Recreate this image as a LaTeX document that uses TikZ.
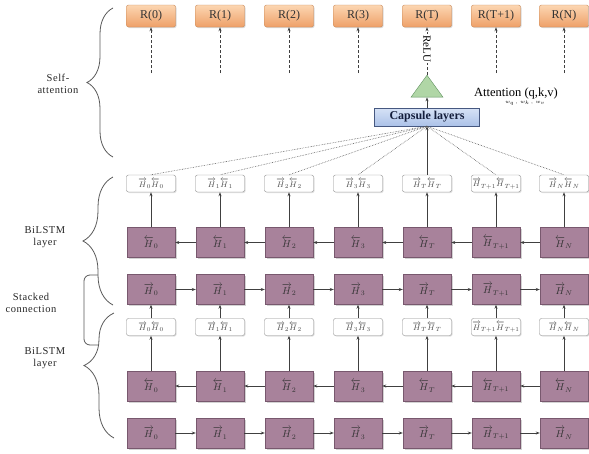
\documentclass[tikz,border=0pt]{standalone}
\usepackage{amsmath}
\usepackage{fontspec}
\setmainfont{Liberation Serif}
\newfontfamily\spacedserif[LetterSpace=5]{Liberation Serif}
\usetikzlibrary{arrows.meta, shapes.geometric, shadows, decorations.pathreplacing}

\definecolor{mauve}{RGB}{168,130,155}
\definecolor{mauveline}{RGB}{120,88,110}
\definecolor{rtop}{RGB}{252,214,178}
\definecolor{rbot}{RGB}{238,160,104}
\definecolor{rline}{RGB}{200,135,85}
\definecolor{captop}{RGB}{214,226,246}
\definecolor{capbot}{RGB}{172,194,232}
\definecolor{capline}{RGB}{70,88,128}
\definecolor{trifill}{RGB}{176,214,166}
\definecolor{triline}{RGB}{96,146,96}

\newcommand{\fH}[1]{\overrightarrow{H}_{#1}}
\newcommand{\bH}[1]{\overleftarrow{H}_{#1}}

\begin{document}
\begin{tikzpicture}[
  x=1pt, y=-1pt,
  font=\fontsize{11}{13}\selectfont,
  rbox/.style={draw=rline, top color=rtop, bottom color=rbot, rounded corners=2pt,
               minimum width=49pt, minimum height=22pt, inner sep=0pt,
               font=\fontsize{12}{14}\selectfont, text=black!80,
               drop shadow={shadow xshift=1pt, shadow yshift=-1pt, opacity=0.3}},
  cbox/.style={draw=black!45, fill=white, rounded corners=2pt,
               minimum width=49pt, minimum height=17pt, inner sep=0pt,
               font=\fontsize{8.5}{9}\selectfont, text=black!70,
               drop shadow={shadow xshift=1pt, shadow yshift=-1pt, opacity=0.25}},
  hbox/.style={draw=mauveline, fill=mauve, minimum width=48pt, minimum height=30pt,
               inner sep=0pt, font=\fontsize{10}{11}\selectfont, text=black!80,
               drop shadow={shadow xshift=1.5pt, shadow yshift=-1.5pt, opacity=0.35}},
  capbox/.style={draw=capline, top color=captop, bottom color=capbot,
                 minimum width=105pt, minimum height=18pt, inner sep=0pt,
                 font=\bfseries\fontsize{12}{14}\selectfont, text={rgb,255:red,20;green,30;blue,60}},
  tri/.style={isosceles triangle, isosceles triangle stretches, shape border rotate=90,
              minimum width=32pt, minimum height=22pt, inner sep=0pt,
              draw=triline, fill=trifill},
  side/.style={align=center, text=black!85, font=\spacedserif\fontsize{10.5}{12}\selectfont},
  arr/.style={-{Stealth[length=4pt, width=3pt]}, line width=0.7pt, draw=black!75},
  darr/.style={arr, dash pattern=on 3pt off 2pt},
  dots/.style={densely dotted, line width=0.6pt, draw=black!65},
  brc/.style={decorate, decoration={brace, amplitude=#1}, draw=black!65, line width=0.8pt},
]
\useasboundingbox (0,0) rectangle (589,453);

% outputs
\node[rbox] (r0)  at (151,16) {R(0)};
\node[rbox] (r1)  at (220,16) {R(1)};
\node[rbox] (r2)  at (289,16) {R(2)};
\node[rbox] (r3)  at (358,16) {R(3)};
\node[rbox] (rt)  at (427,16) {R(T)};
\node[rbox] (rt1) at (496,16) {R(T+1)};
\node[rbox] (rn)  at (564,16) {R(N)};

\coordinate (d0)  at (151,73);
\coordinate (d1)  at (220,73);
\coordinate (d2)  at (289,73);
\coordinate (d3)  at (358,73);
\coordinate (dt1) at (496,73);
\coordinate (dn)  at (564,73);

\draw[darr] (d0)  -- (r0);
\draw[darr] (d1)  -- (r1);
\draw[darr] (d2)  -- (r2);
\draw[darr] (d3)  -- (r3);
\draw[darr] (dt1) -- (rt1);
\draw[darr] (dn)  -- (rn);

% capsule and attention
\node[tri] (relu) at (427,89) {};
\node[capbox] (cap) at (427,117) {Capsule layers};
\node (attn)  at (516,93)  {\fontsize{12.5}{14}\selectfont Attention (q,k,v)};
\node (attnw) at (525,103) {\fontsize{5}{6}\selectfont $w_q\,,\,w_k\,,\,w_v$};

\draw[arr] (cap) -- (relu);
\draw[darr] (relu) -- node[pos=0.55, rotate=-90, fill=white, inner sep=1pt] {ReLU} (rt);

% upper BiLSTM layer
\node[cbox] (ucat0)  at (151,183.5) {$\fH{0}\bH{0}$};
\node[cbox] (ucat1)  at (220,183.5) {$\fH{1}\bH{1}$};
\node[cbox] (ucat2)  at (289,183.5) {$\fH{2}\bH{2}$};
\node[cbox] (ucat3)  at (358,183.5) {$\fH{3}\bH{3}$};
\node[cbox] (ucatt)  at (427,183.5) {$\fH{T}\bH{T}$};
\node[cbox] (ucatt1) at (496,183.5) {$\fH{T+1}\bH{T+1}$};
\node[cbox] (ucatn)  at (564,183.5) {$\fH{N}\bH{N}$};

\node[hbox] (ubwd0)  at (151,242.5) {$\bH{0}$};
\node[hbox] (ubwd1)  at (220,242.5) {$\bH{1}$};
\node[hbox] (ubwd2)  at (289,242.5) {$\bH{2}$};
\node[hbox] (ubwd3)  at (358,242.5) {$\bH{3}$};
\node[hbox] (ubwdt)  at (427,242.5) {$\bH{T}$};
\node[hbox] (ubwdt1) at (496,242.5) {$\bH{T+1}$};
\node[hbox] (ubwdn)  at (564,242.5) {$\bH{N}$};

\node[hbox] (ufwd0)  at (151,289.5) {$\fH{0}$};
\node[hbox] (ufwd1)  at (220,289.5) {$\fH{1}$};
\node[hbox] (ufwd2)  at (289,289.5) {$\fH{2}$};
\node[hbox] (ufwd3)  at (358,289.5) {$\fH{3}$};
\node[hbox] (ufwdt)  at (427,289.5) {$\fH{T}$};
\node[hbox] (ufwdt1) at (496,289.5) {$\fH{T+1}$};
\node[hbox] (ufwdn)  at (564,289.5) {$\fH{N}$};

% lower BiLSTM layer
\node[cbox] (lcat0)  at (151,327) {$\fH{0}\bH{0}$};
\node[cbox] (lcat1)  at (220,327) {$\fH{1}\bH{1}$};
\node[cbox] (lcat2)  at (289,327) {$\fH{2}\bH{2}$};
\node[cbox] (lcat3)  at (358,327) {$\fH{3}\bH{3}$};
\node[cbox] (lcatt)  at (427,327) {$\fH{T}\bH{T}$};
\node[cbox] (lcatt1) at (496,327) {$\fH{T+1}\bH{T+1}$};
\node[cbox] (lcatn)  at (564,327) {$\fH{N}\bH{N}$};

\node[hbox] (lbwd0)  at (151,386) {$\bH{0}$};
\node[hbox] (lbwd1)  at (220,386) {$\bH{1}$};
\node[hbox] (lbwd2)  at (289,386) {$\bH{2}$};
\node[hbox] (lbwd3)  at (358,386) {$\bH{3}$};
\node[hbox] (lbwdt)  at (427,386) {$\bH{T}$};
\node[hbox] (lbwdt1) at (496,386) {$\bH{T+1}$};
\node[hbox] (lbwdn)  at (564,386) {$\bH{N}$};

\node[hbox] (lfwd0)  at (151,433) {$\fH{0}$};
\node[hbox] (lfwd1)  at (220,433) {$\fH{1}$};
\node[hbox] (lfwd2)  at (289,433) {$\fH{2}$};
\node[hbox] (lfwd3)  at (358,433) {$\fH{3}$};
\node[hbox] (lfwdt)  at (427,433) {$\fH{T}$};
\node[hbox] (lfwdt1) at (496,433) {$\fH{T+1}$};
\node[hbox] (lfwdn)  at (564,433) {$\fH{N}$};

% capsule inputs
\draw[arr] (ucatt) -- (cap);
\draw[dots] (cap.south) -- (ucat0.north);
\draw[dots] (cap.south) -- (ucat1.north);
\draw[dots] (cap.south) -- (ucat2.north);
\draw[dots] (cap.south) -- (ucat3.north);
\draw[dots] (cap.south) -- (ucatt1.north);
\draw[dots] (cap.south) -- (ucatn.north);

% upper layer arrows
\draw[arr] (ubwd1)  -- (ubwd0);
\draw[arr] (ubwd2)  -- (ubwd1);
\draw[arr] (ubwd3)  -- (ubwd2);
\draw[arr] (ubwdt)  -- (ubwd3);
\draw[arr] (ubwdt1) -- (ubwdt);
\draw[arr] (ubwdn)  -- (ubwdt1);

\draw[arr] (ubwd0)  -- (ucat0);
\draw[arr] (ubwd1)  -- (ucat1);
\draw[arr] (ubwd2)  -- (ucat2);
\draw[arr] (ubwd3)  -- (ucat3);
\draw[arr] (ubwdt)  -- (ucatt);
\draw[arr] (ubwdt1) -- (ucatt1);
\draw[arr] (ubwdn)  -- (ucatn);

\draw[arr] (ufwd0)  -- (ufwd1);
\draw[arr] (ufwd1)  -- (ufwd2);
\draw[arr] (ufwd2)  -- (ufwd3);
\draw[arr] (ufwd3)  -- (ufwdt);
\draw[arr] (ufwdt)  -- (ufwdt1);
\draw[arr] (ufwdt1) -- (ufwdn);

% stacked connection
\draw[arr] (lcat0)  -- (ufwd0);
\draw[arr] (lcat1)  -- (ufwd1);
\draw[arr] (lcat2)  -- (ufwd2);
\draw[arr] (lcat3)  -- (ufwd3);
\draw[arr] (lcatt)  -- (ufwdt);
\draw[arr] (lcatt1) -- (ufwdt1);
\draw[arr] (lcatn)  -- (ufwdn);

% lower layer arrows
\draw[arr] (lbwd0)  -- (lcat0);
\draw[arr] (lbwd1)  -- (lcat1);
\draw[arr] (lbwd2)  -- (lcat2);
\draw[arr] (lbwd3)  -- (lcat3);
\draw[arr] (lbwdt)  -- (lcatt);
\draw[arr] (lbwdt1) -- (lcatt1);
\draw[arr] (lbwdn)  -- (lcatn);

\draw[arr] (lbwd1)  -- (lbwd0);
\draw[arr] (lbwd2)  -- (lbwd1);
\draw[arr] (lbwd3)  -- (lbwd2);
\draw[arr] (lbwdt)  -- (lbwd3);
\draw[arr] (lbwdt1) -- (lbwdt);
\draw[arr] (lbwdn)  -- (lbwdt1);

\draw[arr] (lfwd0)  -- (lfwd1);
\draw[arr] (lfwd1)  -- (lfwd2);
\draw[arr] (lfwd2)  -- (lfwd3);
\draw[arr] (lfwd3)  -- (lfwdt);
\draw[arr] (lfwdt)  -- (lfwdt1);
\draw[arr] (lfwdt1) -- (lfwdn);

% side braces and labels
\draw[brc=26pt] (113,157) -- (113,8);
\draw[brc=30pt] (113,305) -- (113,177);
\draw[brc=30pt, decoration={aspect=0.58}] (114,438) -- (114,313);
\draw[draw=black!65, line width=0.8pt, rounded corners=6pt] (98,275) -- (84,275) -- (84,345) -- (98,345);

\node[side] (selfatt) at (58,84)    {Self-\\attention};
\node[side] (bilstm1) at (45,237)   {BiLSTM\\layer};
\node[side] (stacked) at (31,302.5) {Stacked\\connection};
\node[side] (bilstm2) at (45,358)   {BiLSTM\\layer};

\end{tikzpicture}
\end{document}
